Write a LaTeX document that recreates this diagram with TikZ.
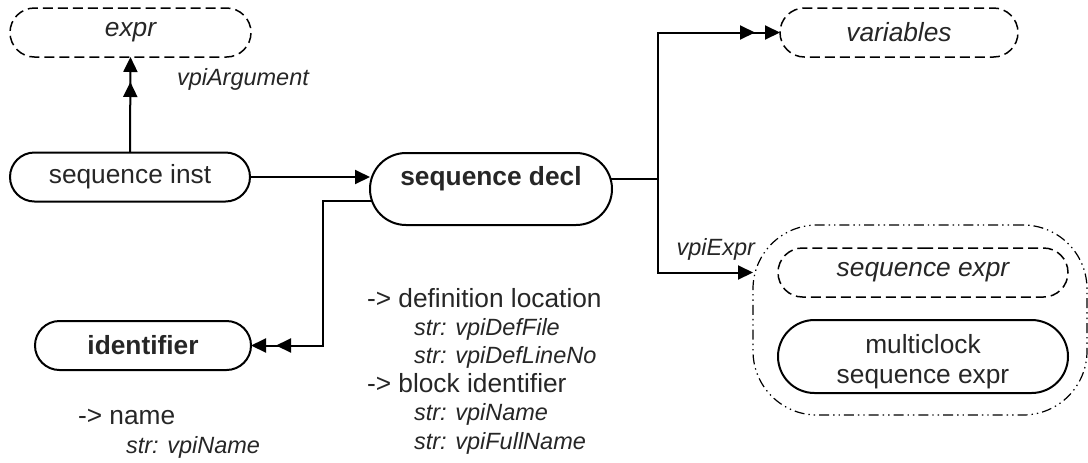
\documentclass[tikz,border=0pt]{standalone}
\usepackage{fontspec}
\setmainfont{Liberation Sans}
\usepackage{tikz}
\usetikzlibrary{arrows.meta}
\usetikzlibrary{shapes.misc}
\usetikzlibrary{positioning}
\newcommand*{\nodefont}{\fontsize{13.15}{14.2}\selectfont}
\newcommand*{\notefont}{\fontsize{11.75}{14.2}\selectfont\itshape}
\definecolor{ink}{gray}{0.15}
\tikzstyle{base}=[x=0.5pt, y=-0.5pt, inner sep=0pt, outer sep=0pt, font=\nodefont, text=ink, line width=1pt]
\tikzstyle{solidbox}=[draw, rounded rectangle, line width=1pt, minimum height=24.5pt]
\tikzstyle{dashbox}=[draw, rounded rectangle, line width=0.75pt, dash pattern=on 5pt off 2.5pt, font=\nodefont\itshape, minimum height=24.5pt]
\tikzstyle{groupbox}=[draw, rounded corners=32pt, line width=0.6pt, dash pattern=on 5pt off 2pt on 0.7pt off 2pt on 0.7pt off 2pt]
\tikzstyle{note}=[font=\notefont]
\tikzstyle{arr}=[-{Triangle[length=7.5pt,width=7pt]}]
\tikzstyle{arrtwo}=[-{Triangle[length=7.5pt,width=7pt,sep=5pt]Triangle[length=7.5pt,width=7pt]}]

\begin{document}
\begin{tikzpicture}[base]
    \useasboundingbox (0,0) rectangle (1088,462);
        \node [dashbox, minimum width=120.5pt] (expr) at (130.5,32.5) {expr};
        \node [solidbox, minimum width=120pt] (seqinst) at (130,177) {sequence inst};
        \node [solidbox, minimum width=121pt, minimum height=36pt, font=\nodefont\bfseries, text height=9.5pt, text depth=13.5pt] (seqdecl) at (491,189) {sequence decl};
        \node [solidbox, minimum width=108pt, font=\nodefont\bfseries] (ident) at (143,345.5) {identifier};
        \node [dashbox, minimum width=119pt] (vars) at (899,32.5) {variables};
        \node [groupbox, minimum width=167pt, minimum height=95pt] (grp) at (920,320) {};
        \node [dashbox, minimum width=145pt] (seqexpr) at (923,272.5) {sequence expr};
        \node [solidbox, minimum width=145pt, minimum height=36.5pt, align=center, text height=29.6pt] (mclk) at (923,356.5) {multiclock\\[0.8pt]sequence expr};
        \node [note, anchor=base west] (argnote) at (177,85) {vpiArgument};
        \node [note, anchor=base east] (exprnote) at (755,255) {vpiExpr};
        \node [anchor=base west, align=left] (declnote) at (367,449) {-> definition location\\
            \hspace*{23.5pt}{\notefont str: vpiDefFile}\\
            \hspace*{23.5pt}{\notefont str: vpiDefLineNo}\\
            -> block identifier\\
            \hspace*{23.5pt}{\notefont str: vpiName}\\
            \hspace*{23.5pt}{\notefont str: vpiFullName}};
        \node [anchor=base west, align=left] (identnote) at (78,453) {-> name\\
            \hspace*{24pt}{\notefont str: vpiName}};
        \draw [arrtwo] (seqinst.north) -- (expr.south);
        \draw [arr] (seqinst.east) -- (seqinst.east -| seqdecl.west);
        \draw [arrtwo] (seqdecl.186) -| ([xshift=36pt]ident.east) -- (ident.east);
        \draw [arrtwo] (seqdecl.5) -- ++(24pt,0) |- (vars.west);
        \draw [arr] (seqdecl.5) -- ++(24pt,0) |- (grp.west |- seqexpr.west);
    \end{tikzpicture}
\end{document}
